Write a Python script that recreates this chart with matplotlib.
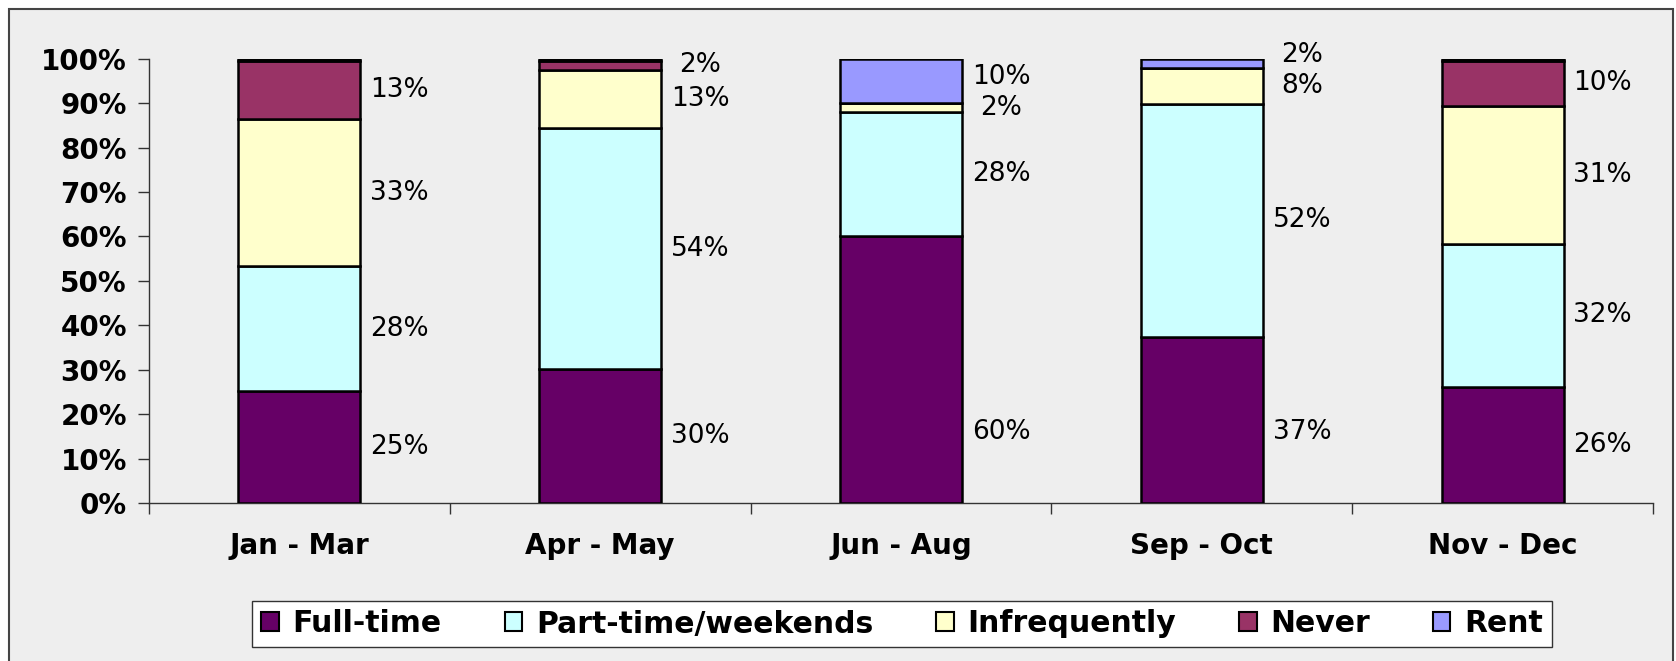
import matplotlib
matplotlib.use("Agg")
import matplotlib.pyplot as plt
from matplotlib.patches import Rectangle
from matplotlib.ticker import FixedLocator, PercentFormatter
import numpy as np

# data (percent of respondents per period)
periods = ["Jan - Mar", "Apr - May", "Jun - Aug", "Sep - Oct", "Nov - Dec"]
full_time = [25, 30, 60, 37, 26]
part_time = [28, 54, 28, 52, 32]
infrequently = [33, 13, 2, 8, 31]
never = [13, 2, 0, 0, 10]
rent = [0.5, 0.5, 10, 2, 0.5]

series_names = ["Full-time", "Part-time/weekends", "Infrequently", "Never", "Rent"]
series_colors = ["#660066", "#CCFFFF", "#FFFFCC", "#993366", "#9999FF"]

raw = np.array([full_time, part_time, infrequently, never, rent], dtype=float)
# 100% stacked chart: every column is scaled to a total of 100
share = raw / raw.sum(axis=0) * 100

fig = plt.figure(figsize=(16.76, 6.61), dpi=100)
fig.patch.set_facecolor("white")
# grey chart area with its border
fig.patches.append(Rectangle((9 / 1676, -0.05), (1673 - 9) / 1676, 1.05 - 9 / 661,
                             transform=fig.transFigure, facecolor="#EEEEEE",
                             edgecolor="#444444", linewidth=1.5, zorder=-5))

ax = fig.add_axes([149 / 1676, 158 / 661, (1653 - 149) / 1676, (503 - 58.8) / 661])
ax.set_facecolor("#EEEEEE")

x = np.arange(len(periods))
width = 0.405
bottom = np.zeros(len(periods))
labels = [[] for _ in periods]
for n, (name, color, vals, shown) in enumerate(zip(series_names, series_colors, share, raw)):
    ax.bar(x, vals, width, bottom=bottom, color=color, edgecolor="black",
           linewidth=1.8, label=name, zorder=3)
    for i in range(len(periods)):
        if shown[i] >= 2:
            y = bottom[i] + vals[i] / 2
            if n == 0:
                # bottom labels sit low in the chart, as in the original
                y = min(y, 16)
            labels[i].append([y, f"{shown[i]:.0f}%"])
    bottom += vals

# keep labels in one column apart, pushing the upper one up
min_gap = 7.0
for i, col in enumerate(labels):
    for k in range(1, len(col)):
        if col[k][0] - col[k - 1][0] < min_gap:
            col[k][0] = col[k - 1][0] + min_gap
    for y, txt in col:
        ax.text(x[i] + width / 2 + 0.13, y, txt, ha="center", va="center",
                fontsize=19, color="black")

ax.set_xlim(-0.5, len(periods) - 0.5)
ax.set_ylim(0, 100)
ax.yaxis.set_major_locator(FixedLocator(np.arange(0, 101, 10)))
ax.yaxis.set_major_formatter(PercentFormatter(decimals=0))
ax.set_xticks(x)
ax.set_xticklabels(periods)
ax.xaxis.set_minor_locator(FixedLocator(np.arange(-0.5, len(periods), 1)))

for lab in ax.get_xticklabels() + ax.get_yticklabels():
    lab.set_fontweight("bold")
    lab.set_fontsize(20)
ax.tick_params(axis="y", length=8, width=1, color="#333333", pad=8)
ax.tick_params(axis="x", which="major", length=0, pad=21)
ax.tick_params(axis="x", which="minor", length=8, width=1, color="#333333")

for s in ["top", "right"]:
    ax.spines[s].set_visible(False)
for s in ["left", "bottom"]:
    ax.spines[s].set_color("#333333")
    ax.spines[s].set_linewidth(1)

leg = fig.legend(loc="center", bbox_to_anchor=(902 / 1676, 1 - 624 / 661), ncol=5,
                 frameon=True, fancybox=False, edgecolor="#333333",
                 prop={"weight": "bold", "size": 21.5}, handlelength=0.6,
                 handleheight=0.6, handletextpad=0.45, columnspacing=2.1,
                 borderpad=0.3, borderaxespad=0)
leg.get_frame().set_linewidth(1)
leg.get_frame().set_facecolor("white")
leg.get_frame().set_alpha(1)
for h in leg.legend_handles:
    h.set_linewidth(1.5)

fig.savefig("out.png", dpi=100)
